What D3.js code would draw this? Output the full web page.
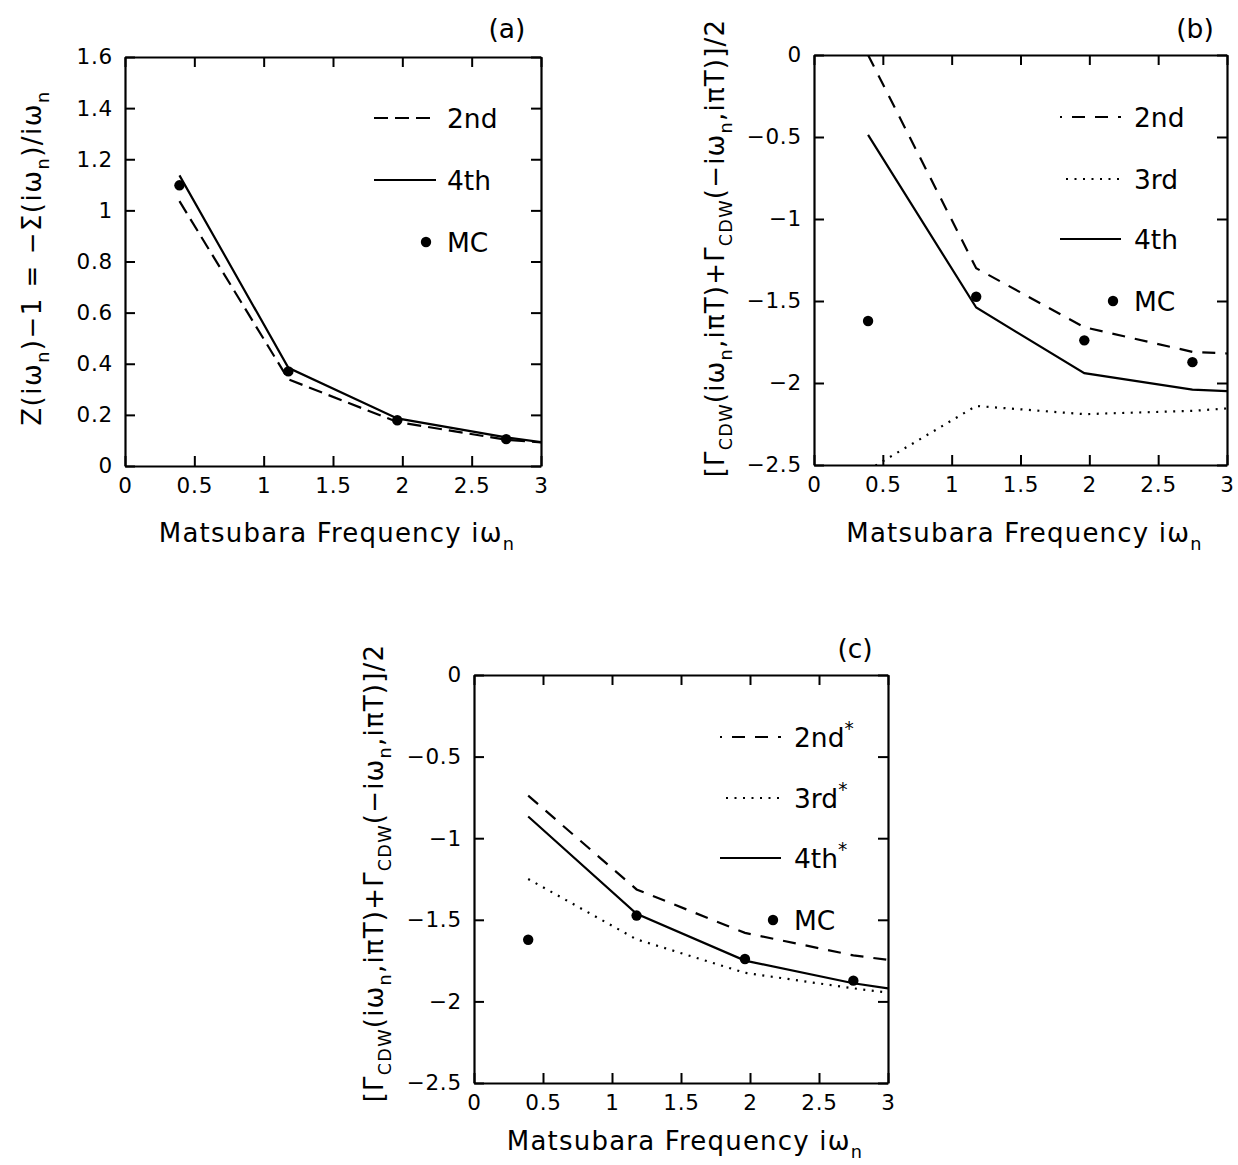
<!DOCTYPE html>
<html>
<head>
<meta charset="utf-8">
<script src="https://cdn.jsdelivr.net/npm/d3@7/dist/d3.min.js"></script>
<style>
  html, body { margin: 0; padding: 0; background: #fff; }
  svg { display: block; }
  text { font-family: "DejaVu Sans", "Liberation Sans", sans-serif; fill: #000; }
</style>
</head>
<body>
<svg id="chart" width="1238" height="1165"></svg>
<script>
// ---------------- data ----------------
const freqLine = [0.3927, 1.1781, 1.9635, 2.7489, 3.0];
const freqMC   = [0.3927, 1.1781, 1.9635, 2.7489];

const xTicks = [0, 0.5, 1, 1.5, 2, 2.5, 3];
const xTickLabels = ["0", "0.5", "1", "1.5", "2", "2.5", "3"];
const yTicksA = [0, 0.2, 0.4, 0.6, 0.8, 1, 1.2, 1.4, 1.6];
const yTickLabelsA = ["0", "0.2", "0.4", "0.6", "0.8", "1", "1.2", "1.4", "1.6"];
const yTicksBC = [-2.5, -2, -1.5, -1, -0.5, 0];
const yTickLabelsBC = ["\u22122.5", "\u22122", "\u22121.5", "\u22121", "\u22120.5", "0"];

// panel (a)
const a2nd = [1.036, 0.339, 0.172, 0.103, 0.092];
const a4th = [1.137, 0.384, 0.186, 0.112, 0.093];
const aMC  = [1.098, 0.370, 0.179, 0.105];

// panel (b)
const b2nd = [0.0, -1.30, -1.66, -1.81, -1.82];
const b3rd = [-2.53, -2.14, -2.19, -2.17, -2.155];
const b4th = [-0.487, -1.54, -1.94, -2.04, -2.05];
const bMC  = [-1.622, -1.474, -1.74, -1.873];

// panel (c)
const c2nd = [-0.739, -1.314, -1.58, -1.718, -1.746];
const c3rd = [-1.25, -1.62, -1.825, -1.92, -1.946];
const c4th = [-0.867, -1.463, -1.75, -1.889, -1.92];
const cMC  = [-1.622, -1.474, -1.74, -1.873];

// ---------------- drawing ----------------
const svg = d3.select("#chart");

const styles = {
  dashA:  {dash: "14,7"},
  dashBC: {dash: "13,10"},
  dot:    {dash: "2,6.5"},
  solid:  {dash: null}
};

function rich(textSel, parts, fs) {
  let shift = 0;
  parts.forEach(p => {
    const ts = textSel.append("tspan").text(p.t);
    let target = 0;
    if (p.sub) { target = fs * 0.32; ts.attr("font-size", fs * 0.68); }
    if (p.sup) { target = -fs * 0.42; ts.attr("font-size", fs * 0.7); }
    if (target !== shift) { ts.attr("dy", target - shift); shift = target; }
  });
}

function panel(cfg) {
  const g = svg.append("g");
  const x = d3.scaleLinear().domain([0, 3]).range([cfg.left, cfg.right]);
  const y = d3.scaleLinear().domain(cfg.ydom).range([cfg.bottom, cfg.top]);

  const clipId = "clip" + cfg.id;
  svg.append("clipPath").attr("id", clipId).append("rect")
    .attr("x", cfg.left).attr("y", cfg.top)
    .attr("width", cfg.right - cfg.left).attr("height", cfg.bottom - cfg.top);

  // axes
  const ax = (axis, tx, ty) => {
    const s = g.append("g").attr("transform", `translate(${tx},${ty})`).call(axis);
    s.select(".domain").attr("stroke-width", 2.2);
    s.selectAll(".tick line").attr("stroke-width", 2);
    s.selectAll("text").attr("font-size", 21.5).attr("letter-spacing", 0.8).attr("font-family", null);
    return s;
  };
  ax(d3.axisBottom(x).tickValues(xTicks).tickFormat((d, i) => xTickLabels[i])
      .tickSize(-10).tickSizeOuter(0).tickPadding(12), 0, cfg.bottom);
  ax(d3.axisTop(x).tickValues(xTicks).tickFormat("")
      .tickSize(-10).tickSizeOuter(0), 0, cfg.top);
  ax(d3.axisLeft(y).tickValues(cfg.yticks).tickFormat((d, i) => cfg.ylabels[i])
      .tickSize(-10).tickSizeOuter(0).tickPadding(12), cfg.left, 0);
  ax(d3.axisRight(y).tickValues(cfg.yticks).tickFormat("")
      .tickSize(-10).tickSizeOuter(0), cfg.right, 0);

  // series
  const line = d3.line().x((d, i) => x(freqLine[i])).y(d => y(d));
  const lg = g.append("g").attr("clip-path", `url(#${clipId})`);
  cfg.series.forEach(s => {
    lg.append("path").datum(s.values).attr("d", line)
      .attr("fill", "none").attr("stroke", "#000").attr("stroke-width", 2.2)
      .attr("stroke-dasharray", s.style.dash);
  });
  lg.selectAll("circle.mc").data(cfg.mc).join("circle")
    .attr("cx", (d, i) => x(freqMC[i])).attr("cy", d => y(d)).attr("r", 5.2)
    .attr("fill", "#000");

  // legend
  const L = cfg.legend;
  cfg.series.forEach((s, i) => {
    const ly = L.rows[i];
    g.append("line").attr("x1", L.x1).attr("x2", L.x2).attr("y1", ly).attr("y2", ly)
      .attr("stroke", "#000").attr("stroke-width", 2.2)
      .attr("stroke-dasharray", s.style.dash)
      .attr("stroke-dashoffset", s.style.dash ? L.offset : null);
    const t = g.append("text").attr("x", L.tx).attr("y", ly + 9.5).attr("font-size", 26.5);
    rich(t, s.label, 26.5);
  });
  const my = L.rows[cfg.series.length];
  g.append("circle").attr("cx", L.dotx).attr("cy", my).attr("r", 5.2).attr("fill", "#000");
  g.append("text").attr("x", L.tx).attr("y", my + 9.5).attr("font-size", 26.5).text("MC");

  // panel letter
  g.append("text").attr("x", cfg.letter[0]).attr("y", cfg.letter[1])
    .attr("text-anchor", "middle").attr("font-size", 26.5).text(cfg.letterText);

  // x title
  const xt = g.append("text").attr("x", (cfg.left + cfg.right) / 2 + 4).attr("y", cfg.xtitleY)
    .attr("text-anchor", "middle").attr("font-size", 26).attr("letter-spacing", 1.2);
  rich(xt, [{t: "Matsubara Frequency i\u03c9"}, {t: "n", sub: true}], 26);

  // y title
  const yt = g.append("text")
    .attr("transform", `translate(${cfg.ytitle[0]},${cfg.ytitle[1]}) rotate(-90)`)
    .attr("text-anchor", "middle").attr("font-size", 26).attr("letter-spacing", cfg.ytitleLS);
  rich(yt, cfg.ytitleParts, 26);
}

const gammaLabel = [
  {t: "[\u0393"}, {t: "CDW", sub: true}, {t: "(i\u03c9"}, {t: "n", sub: true},
  {t: ",i\u03c0T)+\u0393"}, {t: "CDW", sub: true}, {t: "(\u2212i\u03c9"}, {t: "n", sub: true},
  {t: ",i\u03c0T)]/2"}
];

panel({
  id: "a", letterText: "(a)", left: 125, right: 541, top: 57, bottom: 466, ydom: [0, 1.6],
  yticks: yTicksA, ylabels: yTickLabelsA,
  series: [
    {values: a2nd, style: styles.dashA, label: [{t: "2nd"}]},
    {values: a4th, style: styles.solid, label: [{t: "4th"}]}
  ],
  mc: aMC,
  legend: {x1: 374, x2: 436, tx: 447, dotx: 426, rows: [118, 180, 242], offset: 0},
  letter: [507, 38], xtitleY: 542,
  ytitle: [41, 258], ytitleLS: 1.5,
  ytitleParts: [
    {t: "Z(i\u03c9"}, {t: "n", sub: true}, {t: ")\u22121 = \u2212\u03a3(i\u03c9"}, {t: "n", sub: true},
    {t: ")/i\u03c9"}, {t: "n", sub: true}
  ]
});

panel({
  id: "b", letterText: "(b)", left: 814, right: 1227, top: 55, bottom: 465, ydom: [-2.5, 0],
  yticks: yTicksBC, ylabels: yTickLabelsBC,
  series: [
    {values: b2nd, style: styles.dashBC, label: [{t: "2nd"}]},
    {values: b3rd, style: styles.dot, label: [{t: "3rd"}]},
    {values: b4th, style: styles.solid, label: [{t: "4th"}]}
  ],
  mc: bMC,
  legend: {x1: 1060, x2: 1121, tx: 1134, dotx: 1113, rows: [117, 179, 239, 301], offset: 11},
  letter: [1195, 38], xtitleY: 542,
  ytitle: [724, 248], ytitleLS: 1.2,
  ytitleParts: gammaLabel
});

panel({
  id: "c", letterText: "(c)", left: 474, right: 888, top: 675, bottom: 1083, ydom: [-2.5, 0],
  yticks: yTicksBC, ylabels: yTickLabelsBC,
  series: [
    {values: c2nd, style: styles.dashBC, label: [{t: "2nd"}, {t: "*", sup: true}]},
    {values: c3rd, style: styles.dot, label: [{t: "3rd"}, {t: "*", sup: true}]},
    {values: c4th, style: styles.solid, label: [{t: "4th"}, {t: "*", sup: true}]}
  ],
  mc: cMC,
  legend: {x1: 720, x2: 781, tx: 794, dotx: 773, rows: [737, 798, 858, 920], offset: 11},
  letter: [855, 658], xtitleY: 1150,
  ytitle: [383, 873], ytitleLS: 1.2,
  ytitleParts: gammaLabel
});
</script>
</body>
</html>
